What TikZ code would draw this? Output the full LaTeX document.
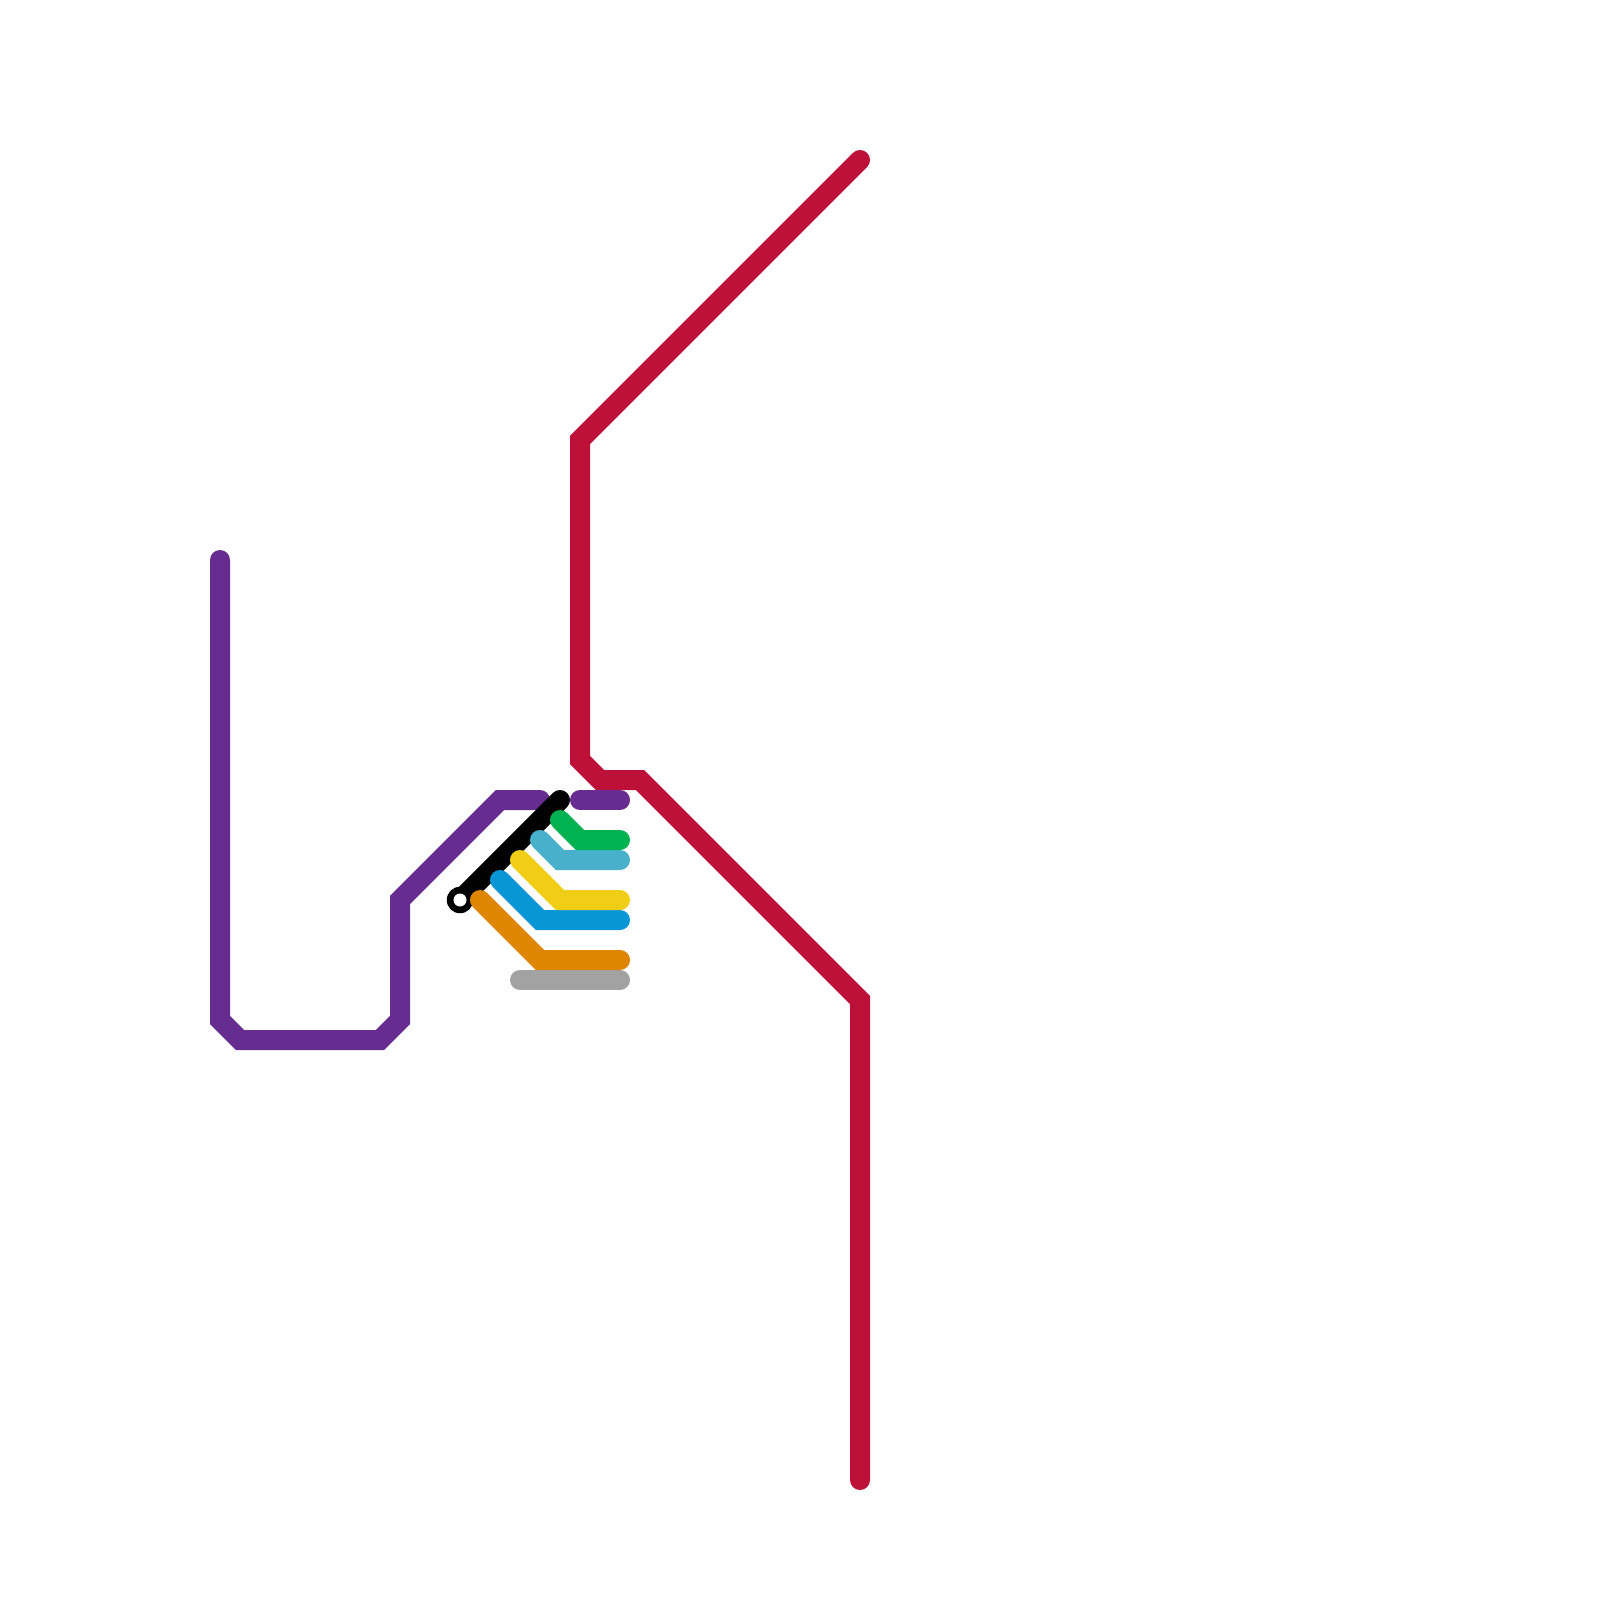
\documentclass[tikz,border=0pt]{standalone}
\definecolor{cpurple}{HTML}{662C90}
\definecolor{cred}{HTML}{BD1038}
\definecolor{cgreen}{HTML}{00B251}
\definecolor{ccyan}{HTML}{48B0CB}
\definecolor{cyellow}{HTML}{F0CE15}
\definecolor{cblue}{HTML}{0896D7}
\definecolor{corange}{HTML}{DF8600}
\definecolor{cgray}{HTML}{A2A2A2}
\tikzset{
  metro/.style={line width=20pt,line cap=round,line join=miter},
  ringouter/.style={circle,fill=black,draw=none,minimum size=26.5pt,inner sep=0pt,outer sep=0pt},
  ringinner/.style={circle,fill=white,draw=none,minimum size=13pt,inner sep=0pt,outer sep=0pt}
}
\begin{document}
\begin{tikzpicture}[x=1pt,y=-1pt]
\useasboundingbox (0,0) rectangle (1600,1600);
\fill[white] (0,0) rectangle (1600,1600);
% red line
\coordinate (r1) at (860,160);
\coordinate (r2) at (580,440);
\coordinate (r3) at (580,760);
\coordinate (r4) at (600,780);
\coordinate (r5) at (640,780);
\coordinate (r6) at (860,1000);
\coordinate (r7) at (860,1480);
\draw[metro,cred] (r1) -- (r2) -- (r3) -- (r4) -- (r5) -- (r6) -- (r7);
% purple line
\coordinate (p1) at (220,560);
\coordinate (p2) at (220,1020);
\coordinate (p3) at (240,1040);
\coordinate (p4) at (380,1040);
\coordinate (p5) at (400,1020);
\coordinate (p6) at (400,900);
\coordinate (p7) at (500,800);
\coordinate (p8) at (540,800);
\draw[metro,cpurple] (p1) -- (p2) -- (p3) -- (p4) -- (p5) -- (p6) -- (p7) -- (p8);
\coordinate (q1) at (580,800);
\coordinate (q2) at (620,800);
\draw[metro,cpurple] (q1) -- (q2);
% black line with terminus
\coordinate (k1) at (560,800);
\coordinate (k2) at (460,900);
\draw[metro,black] (k1) -- (k2);
\node[ringouter] (ring) at (k2) {};
\node[ringinner] (ringhole) at (k2) {};
% branches
\coordinate (g1) at (560,820);
\coordinate (g2) at (580,840);
\coordinate (g3) at (620,840);
\coordinate (c1) at (540,840);
\coordinate (c2) at (560,860);
\coordinate (c3) at (620,860);
\coordinate (y1) at (520,860);
\coordinate (y2) at (560,900);
\coordinate (y3) at (620,900);
\coordinate (b1) at (500,880);
\coordinate (b2) at (540,920);
\coordinate (b3) at (620,920);
\coordinate (o1) at (480,900);
\coordinate (o2) at (540,960);
\coordinate (o3) at (620,960);
\coordinate (s1) at (520,980);
\coordinate (s2) at (620,980);
\draw[metro,cgray] (s1) -- (s2);
\draw[metro,corange] (o1) -- (o2) -- (o3);
\draw[metro,cblue] (b1) -- (b2) -- (b3);
\draw[metro,cyellow] (y1) -- (y2) -- (y3);
\draw[metro,ccyan] (c1) -- (c2) -- (c3);
\draw[metro,cgreen] (g1) -- (g2) -- (g3);
\end{tikzpicture}
\end{document}
